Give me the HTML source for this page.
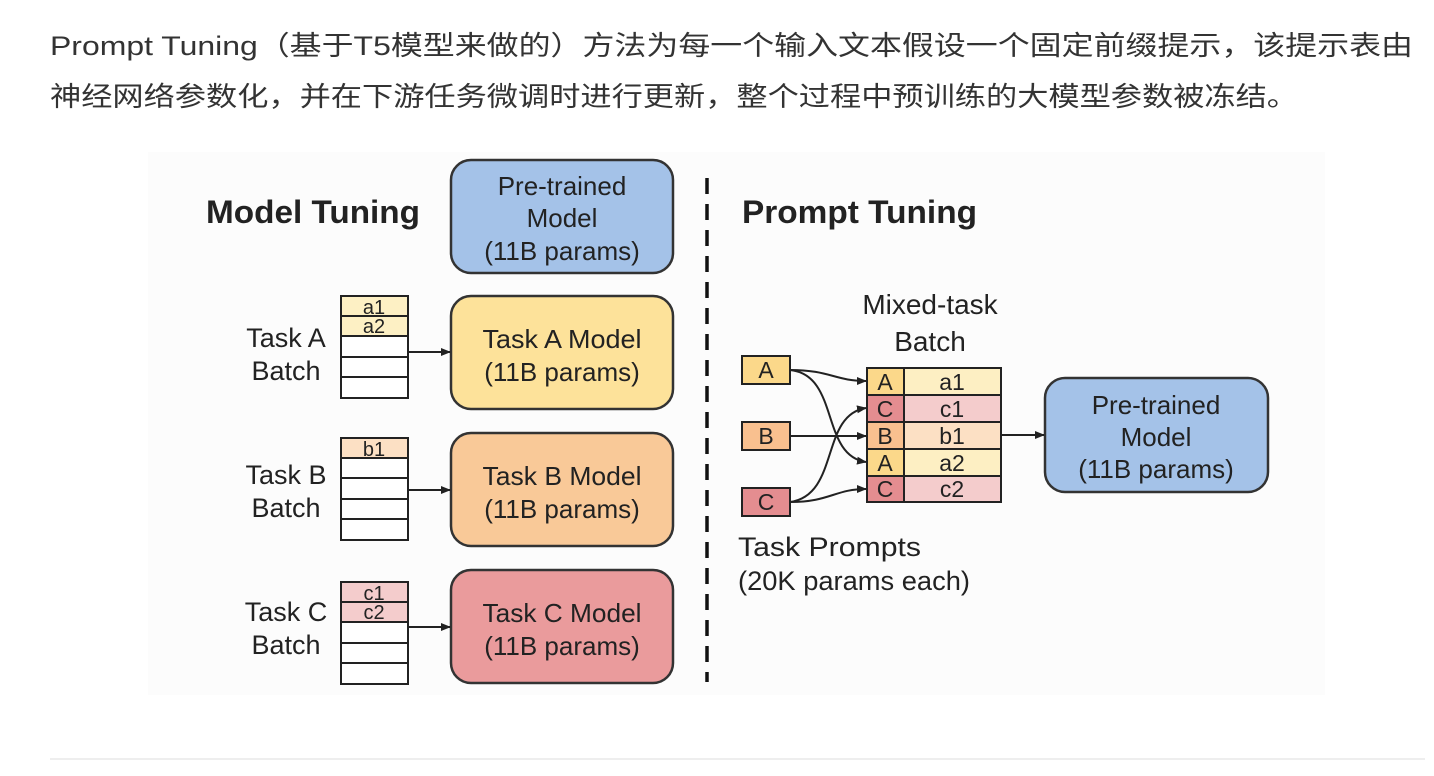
<!DOCTYPE html>
<html><head><meta charset="utf-8"><style>
html,body{margin:0;padding:0;background:#fff;width:1434px;height:776px;overflow:hidden}
svg{display:block}
</style></head><body>
<svg width="1434" height="776" viewBox="0 0 1434 776" xmlns="http://www.w3.org/2000/svg">
<defs><marker id="ar" markerWidth="10" markerHeight="8" refX="9" refY="4" orient="auto" markerUnits="userSpaceOnUse"><path d="M0,0 L10,4 L0,8 z" fill="#222"/></marker></defs>
<g font-family="Liberation Sans, Noto Sans CJK SC, sans-serif" fill="#333" font-size="27">
<text x="50" y="55" textLength="1363" lengthAdjust="spacingAndGlyphs">Prompt Tuning（基于T5模型来做的）方法为每一个输入文本假设一个固定前缀提示，该提示表由</text>
<text x="50" y="106" textLength="1248" lengthAdjust="spacingAndGlyphs">神经网络参数化，并在下游任务微调时进行更新，整个过程中预训练的大模型参数被冻结。</text>
</g>
<rect x="148" y="152" width="1177" height="543" fill="#fcfcfc"/>
<g font-family="Liberation Sans, sans-serif" fill="#222" font-weight="bold" font-size="32">
<text x="206" y="223" textLength="214" lengthAdjust="spacingAndGlyphs">Model Tuning</text>
<text x="742" y="223" textLength="235" lengthAdjust="spacingAndGlyphs">Prompt Tuning</text>
</g>
<g stroke="#333" stroke-width="2.5">
<rect x="451" y="160" width="222" height="113" rx="20" fill="#a4c2e8"/>
<rect x="451" y="296" width="222" height="113" rx="20" fill="#fde29a"/>
<rect x="451" y="433" width="222" height="113" rx="20" fill="#f9c998"/>
<rect x="451" y="570" width="222" height="113" rx="20" fill="#ea9b9c"/>
<rect x="1045" y="378" width="223" height="114" rx="20" fill="#a4c2e8"/>
</g>
<g font-family="Liberation Sans, sans-serif" font-size="26" fill="#222" text-anchor="middle">
<text x="562" y="195">Pre-trained</text><text x="562" y="227">Model</text><text x="562" y="260">(11B params)</text>
<text x="562" y="348" textLength="159" lengthAdjust="spacingAndGlyphs">Task A Model</text><text x="562" y="381">(11B params)</text>
<text x="562" y="485" textLength="159" lengthAdjust="spacingAndGlyphs">Task B Model</text><text x="562" y="518">(11B params)</text>
<text x="562" y="622" textLength="159" lengthAdjust="spacingAndGlyphs">Task C Model</text><text x="562" y="655">(11B params)</text>
<text x="1156" y="414">Pre-trained</text><text x="1156" y="446">Model</text><text x="1156" y="478">(11B params)</text>
</g>
<g font-family="Liberation Sans, sans-serif" font-size="27" fill="#222" text-anchor="middle">
<text x="286" y="347">Task A</text><text x="286" y="380">Batch</text>
<text x="286" y="484">Task B</text><text x="286" y="517">Batch</text>
<text x="286" y="621">Task C</text><text x="286" y="654">Batch</text>
<text x="930" y="314" font-size="28">Mixed-task</text><text x="930" y="351" font-size="28">Batch</text>
</g>
<g font-family="Liberation Sans, sans-serif" font-size="27" fill="#222">
<text x="738" y="556" textLength="183" lengthAdjust="spacingAndGlyphs">Task Prompts</text><text x="738" y="590" textLength="232" lengthAdjust="spacingAndGlyphs">(20K params each)</text>
</g>
<g stroke="#222" stroke-width="2">
<rect x="341" y="296" width="67" height="20" fill="#fdf0c4"/><rect x="341" y="316" width="67" height="20" fill="#fdf0c4"/>
<rect x="341" y="336" width="67" height="21" fill="#fff"/><rect x="341" y="357" width="67" height="20" fill="#fff"/><rect x="341" y="377" width="67" height="21" fill="#fff"/>
<rect x="341" y="438" width="67" height="20" fill="#fce0c4"/><rect x="341" y="458" width="67" height="20" fill="#fff"/>
<rect x="341" y="478" width="67" height="21" fill="#fff"/><rect x="341" y="499" width="67" height="20" fill="#fff"/><rect x="341" y="519" width="67" height="21" fill="#fff"/>
<rect x="341" y="582" width="67" height="20" fill="#f4cccc"/><rect x="341" y="602" width="67" height="20" fill="#f4cccc"/>
<rect x="341" y="622" width="67" height="21" fill="#fff"/><rect x="341" y="643" width="67" height="20" fill="#fff"/><rect x="341" y="663" width="67" height="21" fill="#fff"/>
</g>
<g font-family="Liberation Sans, sans-serif" font-size="20" fill="#222" text-anchor="middle">
<text x="374" y="314">a1</text><text x="374" y="333">a2</text><text x="374" y="456">b1</text>
<text x="374" y="600">c1</text><text x="374" y="619">c2</text>
</g>
<g stroke="#222" stroke-width="2" fill="none" marker-end="url(#ar)">
<line x1="408" y1="352" x2="450" y2="352"/>
<line x1="408" y1="490" x2="450" y2="490"/>
<line x1="408" y1="627" x2="450" y2="627"/>
<line x1="1001" y1="435" x2="1044" y2="435"/>
<path d="M790,370 C830,370 835,381 866,381"/>
<path d="M790,370 C840,375 820,455 866,462"/>
<path d="M790,436 L866,436"/>
<path d="M790,502 C840,495 820,415 866,408"/>
<path d="M790,502 C830,502 835,489 866,489"/>
</g>
<line x1="707" y1="178" x2="707" y2="682" stroke="#111" stroke-width="3.5" stroke-dasharray="16 10"/>
<g stroke="#222" stroke-width="2">
<rect x="742" y="356" width="48" height="28" fill="#fbd88a"/>
<rect x="742" y="422" width="48" height="28" fill="#f9c08f"/>
<rect x="742" y="488" width="48" height="28" fill="#e48d90"/>
<rect x="867" y="368" width="37" height="27" fill="#fbd88a"/><rect x="904" y="368" width="97" height="27" fill="#fdefc3"/>
<rect x="867" y="395" width="37" height="27" fill="#e48d90"/><rect x="904" y="395" width="97" height="27" fill="#f4cccc"/>
<rect x="867" y="422" width="37" height="27" fill="#f9c08f"/><rect x="904" y="422" width="97" height="27" fill="#fce0c4"/>
<rect x="867" y="449" width="37" height="27" fill="#fbd88a"/><rect x="904" y="449" width="97" height="27" fill="#fdefc3"/>
<rect x="867" y="476" width="37" height="26" fill="#e48d90"/><rect x="904" y="476" width="97" height="26" fill="#f4cccc"/>
</g>
<g font-family="Liberation Sans, sans-serif" font-size="23" fill="#222" text-anchor="middle">
<text x="766" y="378">A</text><text x="766" y="444">B</text><text x="766" y="510">C</text>
<text x="885" y="390">A</text><text x="952" y="390">a1</text>
<text x="885" y="417">C</text><text x="952" y="417">c1</text>
<text x="885" y="444">B</text><text x="952" y="444">b1</text>
<text x="885" y="471">A</text><text x="952" y="471">a2</text>
<text x="885" y="497">C</text><text x="952" y="497">c2</text>
</g>
<rect x="50" y="758" width="1375" height="2" fill="#eee"/>
</svg>
</body></html>
